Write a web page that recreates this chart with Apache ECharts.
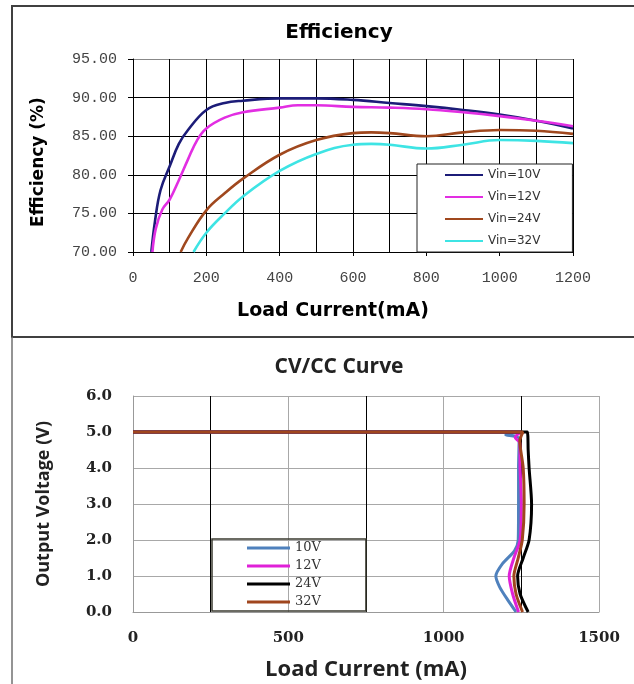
<!DOCTYPE html>
<html><head><meta charset="utf-8">
<script src="https://cdn.jsdelivr.net/npm/echarts@6/dist/echarts.min.js"></script>
<style>html,body{margin:0;padding:0;background:#fff}#c{width:634px;height:684px}</style>
</head><body><div id="c"></div>
<script>
// ---- Efficiency chart data (load current mA, efficiency %) ----
const effNames = ['Vin=10V', 'Vin=12V', 'Vin=24V', 'Vin=32V'];
const effX10 = [50, 60, 75, 100, 125, 150, 200, 250, 300, 400, 500, 600, 700, 800, 900, 1000, 1100, 1200];
const effY10 = [70, 74, 78, 81.1, 84, 85.8, 88.4, 89.3, 89.6, 89.9, 89.9, 89.7, 89.3, 88.9, 88.4, 87.8, 87.0, 86.0];
const effX12 = [53, 62, 80, 100, 125, 150, 175, 200, 250, 300, 400, 450, 500, 600, 700, 800, 900, 1000, 1100, 1200];
const effY12 = [70, 73, 75.5, 76.8, 79.3, 82, 84.5, 86, 87.4, 88.1, 88.7, 89, 89, 88.8, 88.7, 88.5, 88.1, 87.6, 87.0, 86.3];
const effX24 = [130, 150, 200, 250, 300, 400, 500, 600, 650, 700, 800, 900, 1000, 1100, 1200];
const effY24 = [70, 71.8, 75.4, 77.6, 79.5, 82.6, 84.5, 85.4, 85.5, 85.4, 85.0, 85.5, 85.8, 85.7, 85.3];
const effX32 = [165, 200, 250, 300, 400, 500, 600, 650, 700, 800, 900, 1000, 1100, 1200];
const effY32 = [70, 72.5, 75, 77.2, 80.5, 82.7, 83.9, 84.0, 83.9, 83.4, 83.9, 84.5, 84.4, 84.1];

// ---- CV/CC chart data (load current mA, output voltage V) ----
const cvNames = ['10V', '12V', '24V', '32V'];
const cvI10 = [0, 1230, 1250, 1200, 1243, 1241, 1241, 1240, 1228, 1190, 1168, 1180, 1205, 1233];
const cvV10 = [5.0, 5.0, 5.0, 4.92, 4.82, 4.0, 3.0, 2.0, 1.7, 1.35, 1.0, 0.7, 0.35, 0.0];
const cvI12 = [0, 1230, 1250, 1230, 1245, 1246, 1250, 1246, 1226, 1211, 1222, 1241];
const cvV12 = [5.0, 5.0, 5.0, 4.85, 4.7, 4.0, 3.0, 2.0, 1.5, 1.0, 0.5, 0.0];
const cvI24 = [0, 1250, 1269, 1272, 1275, 1283, 1275, 1256, 1238, 1246, 1272];
const cvV24 = [5.0, 5.0, 5.0, 4.5, 4.0, 3.0, 2.0, 1.5, 1.0, 0.5, 0.0];
const cvI32 = [0, 1235, 1255, 1245, 1256, 1259, 1253, 1240, 1226, 1233, 1254];
const cvV32 = [5.0, 5.0, 5.0, 4.75, 4.0, 3.0, 2.0, 1.5, 1.0, 0.5, 0.0];

const effColors = ['#1c1c78', '#e22ee2', '#a0481e', '#3ee4e4'];
const cvColors = ['#4f81bd', '#e020d8', '#000000', '#a0461e'];

const zip = (a, b) => a.map((v, i) => [v, b[i]]);
const effData = [zip(effX10, effY10), zip(effX12, effY12), zip(effX24, effY24), zip(effX32, effY32)];
const cvData = [zip(cvI10, cvV10), zip(cvI12, cvV12), zip(cvI24, cvV24), zip(cvI32, cvV32)];

const chart = echarts.init(document.getElementById('c'), null, {renderer: 'canvas'});

const series = [];
effNames.forEach((n, i) => series.push({
  name: n, type: 'line', xAxisIndex: 0, yAxisIndex: 0, data: effData[i],
  smooth: 0.4, symbol: 'none', itemStyle: {color: effColors[i]},
  lineStyle: {color: effColors[i], width: 2.6}
}));
cvNames.forEach((n, i) => series.push({
  name: n, type: 'line', xAxisIndex: 1, yAxisIndex: 1, data: cvData[i],
  smooth: 0.25, symbol: 'none', itemStyle: {color: cvColors[i]},
  lineStyle: {color: cvColors[i], width: 3}
}));

const option = {
  animation: false,
  backgroundColor: '#fff',
  graphic: [
    {type: 'rect', shape: {x: 12, y: 6, width: 700, height: 331}, style: {fill: 'none', stroke: '#404040', lineWidth: 2}},
    {type: 'line', shape: {x1: 12, y1: 337, x2: 12, y2: 700}, style: {stroke: '#707070', lineWidth: 1.5}},
    {type: 'text', x: 339, y: 33, style: {text: 'Efficiency', align: 'center', verticalAlign: 'middle',
      font: 'bold 20px "DejaVu Sans"', fill: '#000'}},
    {type: 'text', x: 339, y: 367, style: {text: 'CV/CC Curve', align: 'center', verticalAlign: 'middle',
      font: 'bold 21px "Open Sans"', fill: '#222'}}
  ],
  grid: [
    {left: 133, top: 59, width: 440, height: 193},
    {left: 133, top: 396, width: 466, height: 216}
  ],
  xAxis: [
    {type: 'value', gridIndex: 0, min: 0, max: 1200, interval: 200,
      axisLine: {show: true, lineStyle: {color: '#000', width: 1}},
      axisTick: {show: true, length: 4, lineStyle: {color: '#000'}},
      axisLabel: {margin: 19, formatter: v => String(v), fontFamily: 'Liberation Mono', fontSize: 15, color: '#444'},
      splitLine: {show: true, lineStyle: {color: '#000', width: 1}},
      minorTick: {show: false, splitNumber: 2},
      minorSplitLine: {show: true, lineStyle: {color: '#000', width: 1}},
      name: 'Load Current(mA)', nameLocation: 'middle', nameGap: 50,
      nameTextStyle: {fontFamily: 'DejaVu Sans', fontWeight: 'bold', fontSize: 19, color: '#000', padding: [0, 40, 0, 0]}
    },
    {type: 'value', gridIndex: 1, min: 0, max: 1500, interval: 500,
      axisLine: {show: true, lineStyle: {color: '#999', width: 1}},
      axisTick: {show: false},
      axisLabel: {margin: 19, formatter: v => String(v), fontFamily: 'DejaVu Serif', fontWeight: 'bold', fontSize: 15, color: '#222'},
      splitLine: {show: true, lineStyle: {color: '#a8a8a8', width: 1}},
      minorTick: {show: false, splitNumber: 2},
      minorSplitLine: {show: true, lineStyle: {color: '#000', width: 1}},
      name: 'Load Current (mA)', nameLocation: 'middle', nameGap: 47,
      nameTextStyle: {fontFamily: 'Open Sans', fontWeight: 'bold', fontSize: 22, color: '#222'}
    }
  ],
  yAxis: [
    {type: 'value', gridIndex: 0, min: 70, max: 95, interval: 5,
      axisLine: {show: true, lineStyle: {color: '#000', width: 1}},
      axisTick: {show: true, length: 5, lineStyle: {color: '#000'}},
      axisLabel: {margin: 16, formatter: v => v.toFixed(2), fontFamily: 'Liberation Mono', fontSize: 15, color: '#444'},
      splitLine: {show: true, lineStyle: {color: ['#000', '#000', '#000', '#000', '#000', '#888'], width: 1}},
      name: 'Efficiency (%)', nameLocation: 'middle', nameGap: 86,
      nameTextStyle: {fontFamily: 'DejaVu Sans', fontWeight: 'bold', fontSize: 17, color: '#000', padding: [0, 13, 0, 0]}
    },
    {type: 'value', gridIndex: 1, min: 0, max: 6, interval: 1,
      axisLine: {show: true, lineStyle: {color: '#999', width: 1}},
      axisTick: {show: false},
      axisLabel: {margin: 21, formatter: v => v.toFixed(1), fontFamily: 'DejaVu Serif', fontWeight: 'bold', fontSize: 15, color: '#222'},
      splitLine: {show: true, lineStyle: {color: '#a8a8a8', width: 1}},
      name: 'Output Voltage (V)', nameLocation: 'middle', nameGap: 80,
      nameTextStyle: {fontFamily: 'Open Sans', fontWeight: 'bold', fontSize: 18, color: '#222'}
    }
  ],
  legend: [
    {data: effNames, orient: 'vertical', left: 417, top: 164, itemWidth: 38, itemHeight: 2, icon: 'rect',
      itemGap: 0, padding: [0, 32, 0, 28], borderColor: '#222', borderWidth: 1, backgroundColor: '#fff',
      textStyle: {fontFamily: 'DejaVu Sans', fontSize: 12, color: '#333', lineHeight: 22}},
    {data: cvNames, orient: 'vertical', left: 212, top: 539, itemWidth: 43, itemHeight: 3, icon: 'rect',
      itemGap: 0, padding: [0, 45, 0, 35], borderColor: '#3b3b30', borderWidth: 1.5,
      textStyle: {fontFamily: 'DejaVu Serif', fontSize: 13, color: '#333', lineHeight: 18}}
  ],
  series: series
};
chart.setOption(option);
</script>
</body></html>
